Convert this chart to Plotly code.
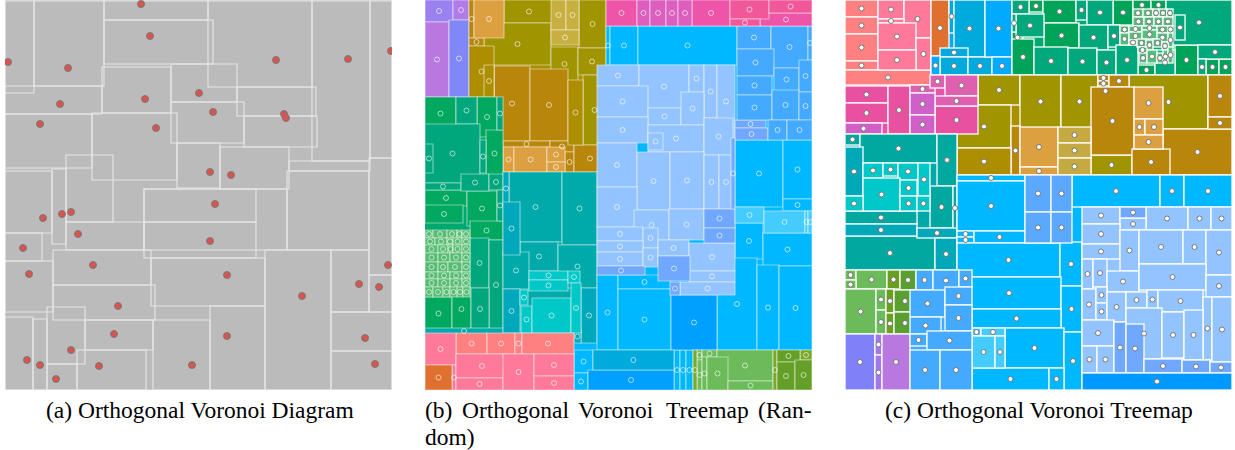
import plotly.graph_objects as go

W, H = 1235, 450

# ---------------- Panel (a): orthogonal Voronoi diagram ----------------
a_cells = [
    (5, 1, 34, 93), (34, 1, 104, 86), (104, 1, 208, 20), (104, 20, 213, 64),
    (208, 1, 312, 87), (312, 1, 370, 161), (370, 1, 392, 158), (5, 86, 102, 114),
    (5, 114, 92, 168), (102, 67, 171, 113), (171, 64, 237, 102), (237, 87, 316, 116),
    (244, 116, 317, 147), (171, 102, 244, 143), (92, 113, 177, 180), (177, 143, 220, 188),
    (220, 147, 289, 189), (289, 161, 370, 171), (287, 171, 369, 250), (5, 171, 52, 233),
    (52, 169, 66, 244), (66, 155, 113, 222), (66, 222, 144, 250), (5, 233, 42, 261),
    (5, 261, 53, 312), (53, 250, 151, 285), (53, 285, 155, 320), (144, 189, 256, 222),
    (144, 222, 256, 258), (144, 189, 287, 250), (151, 258, 265, 306), (265, 250, 331, 390),
    (331, 250, 369, 312), (369, 158, 392, 275), (369, 275, 392, 312), (331, 312, 392, 351),
    (331, 351, 392, 390), (5, 317, 33, 390), (33, 319, 47, 390), (47, 307, 85, 364),
    (47, 364, 77, 390), (85, 320, 153, 350), (77, 350, 146, 390), (153, 320, 210, 390),
    (210, 306, 265, 390),
]
a_site_x = [141, 150, 8, 68, 276, 348, 391, 199, 60, 145, 213, 284, 286, 40, 156, 210, 231,
            43, 62, 71, 78, 23, 215, 210, 93, 29, 227, 118, 302, 359, 388, 379, 114, 227,
            365, 71, 27, 40, 99, 192, 375, 56]
a_site_y = [4, 36, 62, 68, 60, 59, 51, 93, 104, 99, 112, 114, 118, 124, 128, 172, 175,
            218, 214, 212, 234, 248, 204, 241, 265, 274, 275, 306, 296, 284, 265, 287, 334, 336,
            338, 350, 360, 365, 366, 365, 364, 379]

# ---------------- Panel (b): random treemap ----------------
# base blocks of the top-level groups (drawn under the leaf cells)
b_base_purple = [(425, 0, 469, 97)]
b_base_olive = [(469, 0, 606, 172)]
b_base_green = [(425, 97, 503, 334)]
b_base_teal = [(503, 172, 597, 343)]
b_base_sky = [(597, 26, 812, 350), (574, 343, 693, 390)]
b_base_pink = [(425, 333, 574, 390)]
b_base_grass = [(693, 350, 812, 390)]

b_lavender = [(425, 0, 453, 22)]
b_violet = [(453, 0, 469, 20)]
b_orchid = [(425, 22, 449, 97)]
b_periwinkle = [(449, 20, 469, 97)]
b_olive = [(504, 0, 554, 23), (484, 23, 551, 65), (579, 0, 606, 48), (551, 47, 578, 81),
           (578, 48, 606, 75), (583, 75, 606, 145)]
b_lightolive = [(551, 0, 566, 30), (566, 0, 579, 30), (551, 30, 579, 45)]
b_gold = [(469, 0, 474, 38), (469, 38, 484, 46), (494, 66, 530, 141), (530, 69, 568, 141),
          (503, 141, 550, 147), (550, 141, 574, 152), (565, 152, 574, 172), (574, 145, 606, 172)]
b_darkgold = [(469, 46, 494, 97), (568, 80, 583, 145), (484, 65, 494, 97)]
b_orange = [(474, 0, 504, 38), (503, 147, 514, 172), (514, 147, 547, 172), (547, 147, 565, 162),
            (547, 162, 565, 172)]
b_green = [(425, 97, 456, 130), (477, 97, 497, 137), (486, 130, 503, 177), (425, 190, 467, 206),
           (467, 191, 497, 226), (425, 205, 463, 223), (470, 221, 503, 240), (425, 297, 452, 330),
           (452, 288, 471, 330)]
b_seagreen = [(456, 97, 477, 124), (497, 97, 503, 130), (425, 124, 480, 183), (425, 144, 433, 173),
              (480, 140, 486, 173), (425, 183, 461, 190), (461, 174, 489, 191), (489, 174, 503, 190),
              (470, 238, 489, 288), (489, 240, 503, 330), (471, 288, 489, 330), (497, 190, 503, 221)]
b_lightgreen = [
    (425, 230, 433, 238), (433, 230, 447, 238), (447, 230, 457, 238), (457, 230, 462, 238), (462, 230, 470, 238),
    (425, 238, 435, 245), (435, 238, 447, 245), (447, 238, 453, 245), (453, 238, 462, 245), (462, 238, 470, 245),
    (425, 245, 438, 253), (438, 245, 448, 253), (448, 245, 453, 253), (453, 245, 462, 253), (462, 245, 470, 253),
    (425, 253, 438, 262), (438, 253, 450, 262), (450, 253, 462, 262), (462, 253, 470, 262),
    (425, 262, 438, 272), (438, 262, 448, 272), (448, 262, 462, 272), (462, 262, 470, 272),
    (425, 272, 438, 279), (438, 272, 450, 279), (450, 272, 462, 279), (462, 272, 470, 279),
    (425, 279, 438, 287), (438, 279, 450, 287), (450, 279, 462, 287), (462, 279, 470, 287),
    (425, 287, 433, 297), (433, 287, 443, 297), (443, 287, 450, 297), (450, 287, 457, 297),
    (457, 287, 463, 297), (463, 287, 470, 297)]
b_teal = [(509, 172, 562, 242), (562, 172, 597, 245), (520, 242, 558, 271), (503, 252, 529, 289),
          (558, 245, 597, 288), (425, 328, 503, 334)]
b_teal2 = [(503, 172, 509, 205), (503, 202, 520, 255), (503, 289, 520, 333), (581, 288, 597, 343),
           (574, 330, 581, 343)]
b_cyan = [(529, 271, 568, 280), (529, 280, 568, 291), (568, 271, 580, 283), (520, 290, 528, 305),
          (521, 306, 532, 333), (532, 298, 571, 333), (571, 283, 581, 333)]
b_sky = [(606, 26, 610, 65), (610, 26, 638, 65), (638, 26, 737, 65), (735, 140, 783, 207),
         (783, 140, 812, 199), (783, 199, 812, 211), (735, 223, 763, 259), (763, 233, 812, 266),
         (717, 258, 757, 350), (757, 265, 779, 350), (779, 266, 812, 350), (597, 275, 618, 350),
         (618, 275, 671, 289), (618, 289, 671, 350), (674, 350, 680, 390), (680, 350, 686, 390),
         (686, 350, 693, 390), (574, 350, 593, 373), (574, 373, 588, 390)]
b_deepblue = [(671, 295, 717, 350), (588, 370, 674, 390)]
b_ocean = [(593, 350, 674, 370)]
b_lightblue = [
    (597, 65, 639, 86), (639, 65, 689, 108), (689, 65, 704, 92), (704, 65, 717, 118), (717, 65, 735, 138),
    (597, 86, 648, 117), (648, 108, 681, 125), (681, 92, 704, 125), (597, 117, 648, 143),
    (648, 125, 704, 152), (648, 133, 663, 150), (704, 118, 733, 155), (597, 143, 637, 187),
    (637, 152, 670, 210), (670, 152, 704, 209), (704, 155, 719, 209), (719, 155, 733, 209),
    (597, 187, 637, 227), (634, 210, 669, 240), (669, 209, 704, 240), (597, 227, 643, 241),
    (643, 228, 658, 248), (597, 241, 643, 252), (597, 252, 643, 266), (643, 248, 658, 267),
    (658, 240, 689, 256), (689, 243, 735, 271), (689, 271, 735, 282), (680, 282, 735, 295)]
b_medblue = [(735, 120, 766, 128), (735, 128, 768, 140), (704, 209, 735, 228), (704, 228, 735, 243),
             (658, 256, 690, 281), (597, 266, 645, 275), (670, 282, 680, 295), (731, 138, 735, 209)]
b_blue = [(737, 26, 771, 49), (771, 26, 808, 68), (808, 26, 812, 60), (737, 49, 774, 76),
          (737, 76, 772, 95), (774, 68, 799, 91), (799, 60, 812, 92), (737, 95, 772, 120),
          (772, 90, 799, 120), (799, 92, 812, 120), (768, 120, 787, 140), (787, 120, 812, 140)]
b_cyanblue = [(735, 207, 764, 223), (764, 211, 805, 233), (805, 211, 808, 233), (808, 211, 812, 233)]
b_pink = [(606, 0, 637, 26), (692, 0, 730, 26), (760, 13, 812, 26)]
b_magenta = [(637, 0, 650, 26), (650, 0, 666, 26), (666, 0, 678, 26), (678, 0, 692, 26)]
b_rose = [(730, 0, 769, 19), (730, 19, 760, 26), (769, 0, 812, 13)]
b_salmon = [(456, 333, 487, 354), (487, 333, 515, 354), (515, 333, 522, 354), (522, 333, 574, 354)]
b_pinkred = [(425, 333, 456, 365), (452, 365, 456, 390), (456, 354, 508, 378), (456, 378, 503, 390),
             (503, 354, 534, 390), (534, 354, 574, 376), (534, 376, 574, 390)]
b_redorange = [(425, 365, 452, 390)]
b_grass = [(697, 350, 702, 360), (702, 350, 717, 357), (717, 350, 773, 381), (697, 360, 702, 390),
           (702, 357, 707, 390), (707, 357, 728, 390), (728, 381, 773, 390)]
b_olivegreen = [(693, 350, 697, 390), (773, 350, 777, 390), (800, 350, 812, 360)]
b_darkgrass = [(777, 350, 800, 362), (777, 362, 795, 390), (795, 360, 812, 390)]

# ---------------- Panel (c): orthogonal Voronoi treemap ----------------
c_base_pink = [(845, 0, 931, 85)]
c_base_blue = [(931, 0, 1012, 75)]
c_base_green = [(1012, 0, 1232, 75)]
c_base_magenta = [(845, 75, 978, 134)]
c_base_olive = [(957, 75, 1232, 175)]
c_base_teal = [(845, 134, 957, 270)]
c_base_sky = [(957, 175, 1232, 390)]
c_base_lightblue = [(1082, 207, 1232, 373)]
c_base_grass = [(845, 270, 916, 334)]
c_base_purple = [(845, 334, 910, 390)]
c_base_blue2 = [(910, 270, 972, 390)]

c_salmon = [(845, 0, 878, 17), (845, 17, 878, 34), (845, 34, 878, 61), (845, 61, 878, 70), (845, 70, 931, 85)]
c_pinkred = [(878, 0, 904, 19), (904, 0, 931, 38), (878, 19, 904, 23), (878, 23, 916, 50),
             (916, 38, 931, 70), (878, 50, 916, 70)]
c_redorange = [(931, 0, 949, 56)]
c_ocean = [(949, 0, 954, 33), (954, 0, 985, 57), (940, 48, 968, 57), (940, 57, 968, 75), (968, 57, 992, 75)]
c_dodger = [(985, 0, 1012, 57), (931, 56, 940, 75), (992, 57, 1012, 75)]
c_green = [(1029, 0, 1043, 12), (1043, 0, 1076, 23), (1113, 0, 1133, 25), (1044, 23, 1079, 48),
           (1012, 32, 1023, 43), (1012, 39, 1034, 75), (1133, 0, 1151, 10), (1151, 0, 1166, 10),
           (1175, 45, 1198, 75), (1206, 59, 1219, 75), (1219, 59, 1232, 75), (1138, 65, 1155, 75)]
c_seagreen = [(1012, 0, 1029, 14), (1016, 14, 1044, 37), (1012, 14, 1016, 32), (1076, 0, 1087, 20),
              (1087, 0, 1113, 25), (1079, 25, 1108, 50), (1108, 25, 1120, 47), (1034, 47, 1068, 75),
              (1068, 48, 1097, 75), (1097, 50, 1116, 75), (1116, 45, 1138, 75), (1166, 0, 1232, 45),
              (1175, 15, 1185, 40), (1155, 50, 1175, 75), (1198, 45, 1232, 59), (1198, 59, 1206, 75)]
c_lightgreen = [
    (1133, 9, 1143, 17), (1143, 9, 1153, 17), (1153, 9, 1159, 17), (1159, 9, 1167, 17), (1167, 9, 1173, 17),
    (1133, 17, 1144, 26), (1144, 17, 1154, 26), (1154, 17, 1163, 26), (1163, 17, 1173, 26),
    (1120, 26, 1129, 33), (1129, 26, 1142, 32), (1142, 26, 1157, 30), (1157, 26, 1168, 33), (1168, 26, 1173, 33),
    (1120, 33, 1129, 45), (1129, 32, 1142, 40), (1142, 30, 1157, 39), (1157, 33, 1168, 42), (1168, 33, 1173, 47),
    (1129, 40, 1137, 45), (1137, 39, 1146, 47), (1146, 40, 1153, 50), (1153, 39, 1162, 47), (1162, 42, 1168, 50),
    (1138, 47, 1147, 53), (1139, 53, 1147, 63), (1147, 50, 1157, 63), (1157, 53, 1163, 63),
    (1163, 50, 1168, 63), (1168, 47, 1173, 63)]
c_pink = [(845, 86, 888, 103), (845, 103, 888, 123), (888, 86, 910, 134), (935, 106, 978, 134)]
c_pink2 = [(910, 85, 935, 93), (930, 75, 945, 88), (945, 75, 978, 96), (935, 96, 978, 106)]
c_orchid = [(845, 123, 882, 134), (910, 93, 935, 115), (910, 115, 935, 134)]
c_olive = [(978, 75, 1020, 105), (957, 105, 1011, 148), (1020, 75, 1061, 128), (1061, 75, 1098, 128),
           (1129, 75, 1208, 129), (1091, 155, 1132, 175)]
c_gold = [(1098, 75, 1109, 81), (1098, 81, 1109, 86), (1098, 86, 1113, 96), (1109, 75, 1129, 87),
          (1208, 75, 1232, 117), (1091, 87, 1134, 155), (1163, 129, 1232, 175), (1208, 117, 1232, 129),
          (1011, 126, 1020, 175), (1132, 149, 1170, 175)]
c_darkgold = [(957, 148, 1011, 175)]
c_orange = [(1134, 87, 1163, 119), (1134, 119, 1145, 135), (1145, 119, 1163, 135), (1134, 135, 1163, 149),
            (1020, 127, 1058, 167), (1020, 167, 1058, 175)]
c_lightolive = [(1058, 127, 1091, 143), (1058, 143, 1091, 158), (1058, 158, 1091, 175)]
c_teal = [(845, 134, 860, 145), (860, 134, 937, 163), (937, 134, 957, 186), (930, 186, 953, 228),
          (953, 186, 957, 230), (845, 211, 917, 224), (845, 236, 935, 270)]
c_teal2 = [(845, 147, 863, 196), (845, 224, 917, 236), (917, 228, 957, 238), (935, 238, 957, 270)]
c_cyan = [(863, 163, 883, 178), (883, 163, 898, 176), (898, 163, 918, 180), (918, 163, 930, 196),
          (863, 178, 900, 211), (900, 180, 917, 196), (845, 196, 863, 211), (900, 196, 917, 211),
          (917, 196, 930, 211)]
c_grass = [(845, 270, 856, 280), (856, 270, 887, 289), (845, 280, 856, 289), (845, 289, 876, 334),
           (876, 289, 886, 310), (876, 310, 886, 334)]
c_moss = [(887, 270, 900, 289), (886, 289, 894, 313), (886, 313, 894, 334)]
c_leaf = [(900, 270, 916, 290), (894, 290, 916, 312), (894, 312, 916, 334)]
c_periwinkle = [(845, 334, 875, 390)]
c_violet = [(875, 334, 882, 355), (875, 355, 882, 390)]
c_orchid2 = [(882, 334, 910, 390)]
c_sky = [(957, 175, 1025, 181), (957, 181, 1025, 231), (1072, 175, 1160, 207), (1160, 175, 1184, 207),
         (1184, 175, 1232, 207), (957, 231, 974, 237), (957, 237, 974, 243), (974, 231, 1025, 243),
         (957, 243, 1060, 277), (1060, 242, 1082, 286), (957, 277, 1061, 309), (1061, 286, 1082, 332),
         (972, 309, 1061, 328), (1005, 328, 1064, 368), (1064, 332, 1082, 390), (972, 368, 1049, 390),
         (1049, 368, 1064, 390)]
c_skymid = [(1025, 175, 1051, 212), (1051, 175, 1072, 212), (1025, 212, 1051, 243), (1051, 212, 1072, 243)]
c_cyanblue = [(972, 328, 981, 336), (981, 328, 1005, 336), (972, 336, 995, 368), (995, 336, 1005, 368)]
c_blue = [(916, 270, 933, 290), (933, 270, 959, 291), (959, 270, 972, 287), (910, 290, 945, 317),
          (945, 287, 972, 305), (945, 305, 972, 331), (910, 317, 941, 334), (910, 334, 927, 346),
          (927, 331, 972, 350), (910, 350, 940, 390), (940, 350, 972, 390)]
c_lightblue = [
    (1082, 207, 1120, 224), (1146, 207, 1188, 230), (1188, 207, 1211, 230), (1211, 207, 1232, 230),
    (1120, 218, 1146, 230), (1082, 224, 1120, 244), (1082, 244, 1120, 259), (1120, 230, 1139, 271),
    (1139, 230, 1183, 264), (1183, 230, 1206, 264), (1206, 230, 1232, 275), (1082, 259, 1093, 289),
    (1093, 259, 1107, 287), (1107, 271, 1139, 292), (1139, 264, 1206, 290), (1206, 275, 1232, 297),
    (1082, 289, 1096, 320), (1096, 287, 1107, 303), (1096, 303, 1107, 320), (1107, 292, 1126, 322),
    (1126, 292, 1147, 308), (1147, 290, 1158, 309), (1158, 290, 1203, 312), (1203, 297, 1212, 360),
    (1212, 297, 1232, 362), (1082, 320, 1114, 346), (1126, 308, 1162, 359), (1162, 312, 1184, 358),
    (1184, 310, 1203, 360), (1082, 346, 1097, 373), (1097, 346, 1114, 373)]
c_medblue = [(1120, 207, 1146, 218), (1114, 322, 1126, 373), (1126, 324, 1144, 373), (1144, 359, 1182, 373),
             (1182, 360, 1210, 373), (1210, 362, 1232, 373)]
c_azure = [(1082, 373, 1232, 390)]

caption_a = "(a) Orthogonal Voronoi Diagram"
caption_b_words = ["(b)", "Orthogonal", "Voronoi", "Treemap", "(Ran-"]
caption_b_tail = "dom)"
caption_c = "(c) Orthogonal Voronoi Treemap"

# ---------------- styles ----------------
PANEL_B = [
    (b_base_purple, "#a07ce8"), (b_base_olive, "#a89000"), (b_base_green, "#00a870"),
    (b_base_teal, "#00aaaa"), (b_base_sky, "#00b8ff"), (b_base_pink, "#ff7a9a"), (b_base_grass, "#6cbb5a"),
    (b_lavender, "#9b80f0"), (b_violet, "#b07ce8"), (b_orchid, "#b878e0"), (b_periwinkle, "#8088f8"),
    (b_olive, "#a09400"), (b_lightolive, "#c8b040"), (b_gold, "#b8860b"), (b_darkgold, "#ad8e00"),
    (b_orange, "#dda040"), (b_green, "#00a860"), (b_seagreen, "#00a67c"), (b_lightgreen, "#58bd72"),
    (b_teal, "#00aaaa"), (b_teal2, "#00a8bc"), (b_cyan, "#00c8c8"), (b_sky, "#00b8ff"),
    (b_deepblue, "#00a0ff"), (b_ocean, "#00aadd"), (b_lightblue, "#94c4ff"), (b_medblue, "#70a8ff"),
    (b_blue, "#44aaff"), (b_cyanblue, "#44ccff"), (b_pink, "#ee55a8"), (b_magenta, "#dc5fc0"),
    (b_rose, "#f0589a"), (b_salmon, "#ff8080"), (b_pinkred, "#ff7a9a"), (b_redorange, "#e07030"),
    (b_grass, "#6cbb5a"), (b_olivegreen, "#7aa828"), (b_darkgrass, "#64a028"),
]
PANEL_C = [
    (c_base_pink, "#ff7a9a"), (c_base_blue, "#00aaee"), (c_base_green, "#00a870"),
    (c_base_magenta, "#e855a8"), (c_base_olive, "#a89000"), (c_base_teal, "#00a8a8"),
    (c_base_sky, "#00b8ff"), (c_base_lightblue, "#94c4ff"), (c_base_grass, "#6cbb5a"),
    (c_base_purple, "#a07ce8"), (c_base_blue2, "#44aaff"),
    (c_salmon, "#ff8080"), (c_pinkred, "#ff7a9a"), (c_redorange, "#e07030"), (c_ocean, "#00aadd"),
    (c_dodger, "#00aaff"), (c_green, "#00a458"), (c_seagreen, "#00a87c"), (c_lightgreen, "#55c07c"),
    (c_olive, "#a09400"), (c_gold, "#b8860b"), (c_darkgold, "#ad8e00"), (c_orange, "#dda040"),
    (c_lightolive, "#c4aa40"),
    (c_pink, "#e850a0"), (c_pink2, "#e060b0"), (c_orchid, "#d060c8"),
    (c_teal, "#00a8a0"), (c_teal2, "#00a8b8"), (c_cyan, "#00c8c8"), (c_grass, "#6cbb5a"),
    (c_moss, "#6a9e20"), (c_leaf, "#5aa030"), (c_periwinkle, "#8080f8"), (c_violet, "#a078ec"),
    (c_orchid2, "#b878e0"), (c_sky, "#00b8ff"), (c_skymid, "#5aa8ff"), (c_cyanblue, "#44ccff"),
    (c_blue, "#44aaff"), (c_lightblue, "#94c4ff"), (c_medblue, "#70a8ff"), (c_azure, "#0099ff"),
]
BASES = {id(g) for g in [b_base_purple, b_base_olive, b_base_green, b_base_teal, b_base_sky,
                         b_base_pink, b_base_grass, c_base_pink, c_base_blue, c_base_green,
                         c_base_magenta, c_base_olive, c_base_teal, c_base_sky, c_base_lightblue,
                         c_base_grass, c_base_purple, c_base_blue2]}

fig = go.Figure()
shapes = []

# panel (a)
shapes.append(dict(type="rect", xref="x", yref="y", x0=5, x1=392, y0=0, y1=390,
                   fillcolor="#bbbbbb", line=dict(color="#e2e2e2", width=1.2), layer="below"))
for (x0, y0, x1, y1) in a_cells:
    shapes.append(dict(type="rect", xref="x", yref="y", x0=x0, x1=x1, y0=y0, y1=y1,
                       fillcolor="rgba(0,0,0,0)", line=dict(color="#e6e6e6", width=1.1), layer="below"))
fig.add_trace(go.Scatter(x=a_site_x, y=a_site_y, mode="markers", xaxis="x", yaxis="y",
                         marker=dict(size=7, color="#d9534f", line=dict(color="#7a7a7a", width=1)),
                         hoverinfo="skip"))


def add_panel(groups, xr, yr, line_col, line_w, marker):
    cx, cy = [], []
    for cells, col in groups:
        is_base = id(cells) in BASES
        for (x0, y0, x1, y1) in cells:
            shapes.append(dict(type="rect", xref=xr, yref=yr, x0=x0, x1=x1, y0=y0, y1=y1,
                               fillcolor=col,
                               line=dict(color=line_col, width=0 if is_base else line_w),
                               layer="below"))
            if not is_base:
                cx.append((x0 + x1) / 2)
                cy.append((y0 + y1) / 2)
    fig.add_trace(go.Scatter(x=cx, y=cy, mode="markers", xaxis=xr, yaxis=yr,
                             marker=marker, hoverinfo="skip"))


add_panel(PANEL_B, "x2", "y2", "rgba(255,255,255,0.45)", 1.2,
          dict(symbol="circle-open", size=5, color="rgba(255,255,255,0.6)", line=dict(width=1)))
add_panel(PANEL_C, "x3", "y3", "rgba(255,255,255,0.85)", 1.5,
          dict(symbol="circle", size=5, color="white", line=dict(color="rgba(110,110,110,0.9)", width=1)))


def ax(domain, rng):
    return dict(domain=domain, range=rng, visible=False, showgrid=False, zeroline=False, fixedrange=True)


ydom = [1 - 390 / H, 1.0]
fig.update_layout(
    width=W, height=H, margin=dict(l=0, r=0, t=0, b=0),
    paper_bgcolor="white", plot_bgcolor="white", showlegend=False,
    xaxis=ax([5 / W, 392 / W], [5, 392]), yaxis=ax(ydom, [390, 0]),
    xaxis2=ax([425 / W, 812 / W], [425, 812]), yaxis2=ax(ydom, [390, 0]),
    xaxis3=ax([845 / W, 1232 / W], [845, 1232]), yaxis3=ax(ydom, [390, 0]),
    shapes=shapes,
)

font = dict(family="Liberation Serif, Times New Roman, serif", size=23.5, color="black")
y1 = 1 - 410 / H
y2 = 1 - 437 / H
fig.add_annotation(text=caption_a, xref="paper", yref="paper", x=200 / W, y=y1,
                   xanchor="center", yanchor="middle", showarrow=False, font=font)
b_word_left = [425, 461.7, 578, 665.6, 758.4]
for word, xl in zip(caption_b_words, b_word_left):
    fig.add_annotation(text=word, xref="paper", yref="paper", x=xl / W, y=y1,
                       xanchor="left", yanchor="middle", showarrow=False, font=font,
                       xshift=-2)
fig.add_annotation(text=caption_b_tail, xref="paper", yref="paper", x=425 / W, y=y2,
                   xanchor="left", yanchor="middle", showarrow=False, font=font, xshift=-2)
fig.add_annotation(text=caption_c, xref="paper", yref="paper", x=1039 / W, y=y1,
                   xanchor="center", yanchor="middle", showarrow=False, font=font)

fig.write_html("out.html", config={"displayModeBar": False},
               post_script="document.body.style.margin='0';document.body.style.padding='0';")
